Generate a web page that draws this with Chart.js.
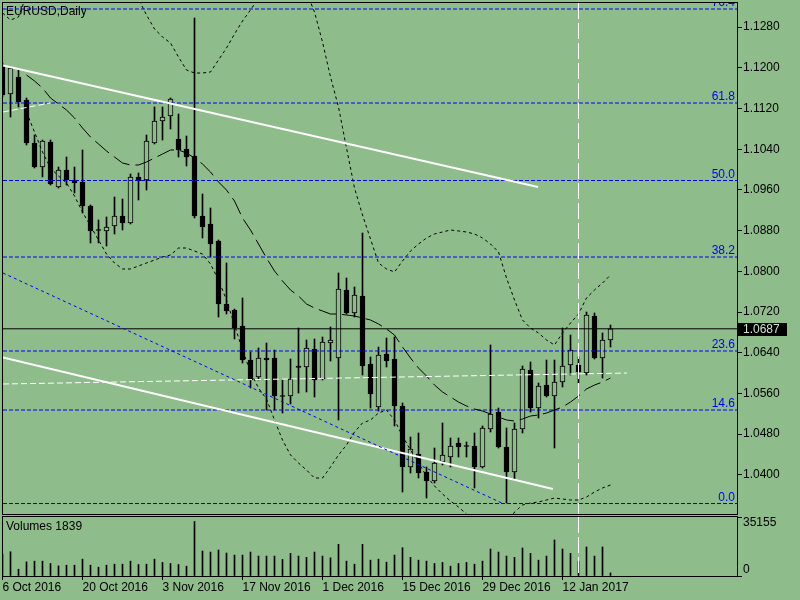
<!DOCTYPE html>
<html>
<head>
<meta charset="utf-8">
<script src="https://cdn.jsdelivr.net/npm/chart.js@4.4.0/dist/chart.umd.min.js"></script>
<style>
  html, body { margin: 0; padding: 0; background: rgb(143,188,139); }
  #wrap { position: relative; width: 800px; height: 600px; overflow: hidden; }
  canvas { position: absolute; left: 0; }
</style>
</head>
<body>
<div id="wrap">
  <canvas id="priceChart" width="800" height="515" style="top:0"></canvas>
  <canvas id="volumeChart" width="800" height="85" style="top:515px"></canvas>
</div>
<script>
// EURUSD daily bars, 6 Oct 2016 - 20 Jan 2017
const dates = [
  '6 Oct 2016','7 Oct 2016','10 Oct 2016','11 Oct 2016','12 Oct 2016','13 Oct 2016','14 Oct 2016','17 Oct 2016','18 Oct 2016','19 Oct 2016',
  '20 Oct 2016','21 Oct 2016','24 Oct 2016','25 Oct 2016','26 Oct 2016','27 Oct 2016','28 Oct 2016','31 Oct 2016','1 Nov 2016','2 Nov 2016',
  '3 Nov 2016','4 Nov 2016','7 Nov 2016','8 Nov 2016','9 Nov 2016','10 Nov 2016','11 Nov 2016','14 Nov 2016','15 Nov 2016','16 Nov 2016',
  '17 Nov 2016','18 Nov 2016','21 Nov 2016','22 Nov 2016','23 Nov 2016','24 Nov 2016','25 Nov 2016','28 Nov 2016','29 Nov 2016','30 Nov 2016',
  '1 Dec 2016','2 Dec 2016','5 Dec 2016','6 Dec 2016','7 Dec 2016','8 Dec 2016','9 Dec 2016','12 Dec 2016','13 Dec 2016','14 Dec 2016',
  '15 Dec 2016','16 Dec 2016','19 Dec 2016','20 Dec 2016','21 Dec 2016','22 Dec 2016','23 Dec 2016','26 Dec 2016','27 Dec 2016','28 Dec 2016',
  '29 Dec 2016','30 Dec 2016','2 Jan 2017','3 Jan 2017','4 Jan 2017','5 Jan 2017','6 Jan 2017','9 Jan 2017','10 Jan 2017','11 Jan 2017',
  '12 Jan 2017','13 Jan 2017','16 Jan 2017','17 Jan 2017','18 Jan 2017','19 Jan 2017','20 Jan 2017'
];

const opens = [
  1.12055,1.11485,1.11820,1.11367,1.10522,1.10050,1.10542,1.09657,1.09992,1.09795,
  1.09756,1.09284,1.08822,1.08793,1.08891,1.09087,1.08950,1.09854,1.09795,1.10522,
  1.10955,1.11053,1.10601,1.10404,1.10267,1.09087,1.08930,1.08596,1.07358,1.07240,
  1.06925,1.06257,1.05923,1.06296,1.06296,1.05559,1.05549,1.06139,1.06119,1.06473,
  1.05883,1.06591,1.06296,1.07633,1.07181,1.07515,1.06178,1.05333,1.06375,1.06277,
  1.05353,1.04154,1.04409,1.04055,1.03879,1.04252,1.04350,1.04625,1.04576,1.04566,
  1.04154,1.04901,1.05235,1.04547,1.04055,1.04901,1.06060,1.05313,1.05765,1.05549,
  1.05824,1.06159,1.06159,1.06001,1.07122,1.06296,1.06650
];
const highs = [
  1.12095,1.12016,1.11977,1.11407,1.10679,1.10581,1.10581,1.10050,1.10247,1.10050,
  1.10385,1.09304,1.09009,1.09068,1.09461,1.09421,1.09913,1.09933,1.10679,1.11230,
  1.11230,1.11407,1.11092,1.10660,1.12979,1.09520,1.09245,1.08616,1.08164,1.07259,
  1.07476,1.06414,1.06493,1.06591,1.06453,1.05864,1.06277,1.06886,1.06650,1.06670,
  1.06709,1.06906,1.07967,1.07869,1.07692,1.08753,1.06316,1.06512,1.06689,1.06709,
  1.05412,1.04743,1.04822,1.04154,1.04527,1.05019,1.04724,1.04724,1.04645,1.04822,
  1.04960,1.06552,1.05313,1.04920,1.05019,1.06139,1.06218,1.05805,1.06257,1.06257,
  1.06886,1.06748,1.06316,1.07200,1.07181,1.06788,1.06945
];
const lows = [
  1.11426,1.11033,1.11230,1.10483,1.10031,1.09854,1.09697,1.09638,1.09697,1.09539,
  1.09146,1.08557,1.08557,1.08498,1.08734,1.08812,1.08930,1.09402,1.09598,1.10503,
  1.10581,1.10797,1.10247,1.10070,1.09048,1.08655,1.08281,1.07102,1.07161,1.06670,
  1.06198,1.05707,1.05864,1.05274,1.05274,1.05215,1.05392,1.05608,1.05628,1.05530,
  1.05864,1.06237,1.05078,1.07161,1.07102,1.05962,1.05313,1.05254,1.06119,1.04960,
  1.03662,1.04036,1.03937,1.03544,1.03839,1.04193,1.04154,1.04350,1.04350,1.03741,
  1.04134,1.04842,1.04527,1.03446,1.03898,1.04822,1.05235,1.05117,1.05530,1.04527,
  1.05726,1.05962,1.05805,1.05962,1.06277,1.05903,1.06512
];
const closes = [
  1.11466,1.11996,1.11328,1.10522,1.10050,1.10562,1.09716,1.09992,1.09795,1.09736,
  1.09284,1.08793,1.08802,1.08871,1.09087,1.08950,1.09854,1.09775,1.10562,1.10955,
  1.11033,1.11387,1.10385,1.10247,1.09087,1.08871,1.08537,1.07358,1.07220,1.06886,
  1.06257,1.05864,1.06296,1.06257,1.05549,1.05539,1.05883,1.06109,1.06493,1.05864,
  1.06611,1.06650,1.07652,1.07181,1.07535,1.06139,1.05589,1.06355,1.06237,1.05353,
  1.04154,1.04507,1.04036,1.03879,1.04232,1.04390,1.04566,1.04547,1.04557,1.04154,
  1.04920,1.05195,1.04547,1.04055,1.04901,1.06080,1.05313,1.05746,1.05549,1.05824,
  1.06139,1.06453,1.06021,1.07141,1.06296,1.06650,1.06870
];
const volumes = [
  13000,14450,4030,8430,8850,8850,7460,6020,6440,6440,
  10050,6440,5240,6440,7040,7040,8850,6840,7040,10050,
  8070,7460,6840,5840,32510,14870,14270,15470,13670,12460,
  12460,14270,11860,11860,11860,9870,13480,11860,11080,14270,
  11860,10840,18900,8850,7040,18900,9450,10050,8250,12460,
  16860,11080,9450,8850,7460,8070,5840,7460,8070,7040,
  8850,16070,14270,11860,11080,16670,13480,9450,11860,21490,
  16070,13480,8850,17280,11860,17280,1839
];

// Bollinger bands as drawn (null where the line is off the window)
const bbUpper = [
  1.13078,1.12940,1.12999,1.13431,null,null,null,null,null,null,
  null,null,null,null,null,null,1.13628,1.13353,1.13038,1.12763,
  1.12606,1.12488,1.12213,1.11957,1.11898,1.11898,1.11918,1.12154,1.12390,1.12665,
  1.12920,1.13136,1.13372,1.13628,null,null,null,1.13923,1.13490,1.13097,
  1.12507,1.11820,1.11230,1.10424,1.09638,1.09107,1.08635,1.08164,1.08046,1.07987,
  1.08203,1.08399,1.08537,1.08655,1.08734,1.08773,1.08812,1.08793,1.08773,1.08734,
  1.08655,1.08537,1.08380,1.07869,1.07436,1.07043,1.06886,1.06788,1.06650,1.06552,
  1.06788,1.06984,1.07161,1.07476,1.07633,1.07770,1.07928
];
const bbMiddle = [
  null,null,null,1.11859,1.11741,1.11603,1.11407,1.11289,1.11171,1.11014,
  1.10817,1.10640,1.10503,1.10365,1.10247,1.10129,1.10090,1.10090,1.10149,1.10227,
  1.10306,1.10385,1.10385,1.10326,1.10227,1.10109,1.09952,1.09756,1.09598,1.09382,
  1.09048,1.08812,1.08537,1.08262,1.08006,1.07810,1.07633,1.07515,1.07358,1.07279,
  1.07220,1.07161,1.07161,1.07141,1.07122,1.07082,1.07043,1.06965,1.06866,1.06748,
  1.06512,1.06296,1.06100,1.05942,1.05765,1.05628,1.05530,1.05431,1.05353,1.05294,
  1.05254,1.05195,1.05136,1.05078,1.05058,1.05097,1.05156,1.05176,1.05215,1.05274,
  1.05333,1.05431,1.05549,1.05687,1.05765,1.05824,1.05903
];
const bbLower = [
  null,null,null,1.11132,1.10738,1.10345,1.10031,1.09874,1.09736,1.09480,
  1.09166,1.08891,1.08616,1.08340,1.08164,1.08046,1.08046,1.08105,1.08164,1.08222,
  1.08281,1.08321,1.08458,1.08458,1.08399,1.08340,1.08144,1.07829,1.07436,1.06945,
  1.06453,1.06021,1.05707,1.05490,1.05078,1.04684,1.04390,1.04232,1.04095,1.03937,
  1.03937,1.04154,1.04390,1.04586,1.04842,1.05019,1.05078,1.05215,1.05274,1.05078,
  1.04763,1.04488,1.04232,1.03977,1.03780,1.03623,1.03485,1.03367,1.03230,1.03073,
  1.02915,1.02817,1.02856,1.03014,1.03269,1.03407,1.03446,1.03466,1.03505,1.03544,
  1.03525,1.03505,1.03505,1.03564,1.03662,1.03741,1.03800
];

const fibLevels = ['0.0','14.6','23.6','38.2','50.0','61.8','76.4'];
const fibPrices = [1.03436,1.05274,1.06434,1.08281,1.09785,1.11308,1.13156];

// hand-drawn objects: [bar index, price]
const upperTrend = [[0.06,1.12046],[66.94,1.09657]];
const lowerTrend = [[0.06,1.06306],[68.81,1.03721]];
const channelLine = [[0.06,1.07967],[62.56,1.03436]];
const whiteDashed = [[0.06,1.05785],[78.06,1.06001]];
const whiteDashedShort = [[0.06,1.11132],[5.94,1.11308]];
const markerDate = '16 Jan 2017';

const lastPrice = 1.0687;
const volumeMax = 35155;
const xTickLabels = ['6 Oct 2016','20 Oct 2016','3 Nov 2016','17 Nov 2016','1 Dec 2016','15 Dec 2016','29 Dec 2016','12 Jan 2017'];

const bg = 'rgb(143,188,139)';
const xMin = 0.0625, xMax = 91.8125;
const FONT = '"Liberation Sans", Arial, sans-serif';

Chart.defaults.font.family = FONT;
Chart.defaults.font.size = 12;
Chart.defaults.color = '#000';

const seg = pts => pts.map(p => ({ x: p[0], y: p[1] }));
const series = arr => arr.map((v, i) => ({ x: i, y: v }));

function lineSet(data, color, dash, width, order) {
  return {
    type: 'line', data, borderColor: color, borderWidth: width || 1,
    borderDash: dash || [], pointRadius: 0, fill: false, tension: 0,
    spanGaps: false, order: order === undefined ? 1 : order
  };
}

// keep the plot area fixed: no extra room for end labels
function noPad(s) {
  s.paddingTop = 0; s.paddingBottom = 0; s.paddingLeft = 0; s.paddingRight = 0;
}

function drawMarker(chart) {
  const { ctx, chartArea: a, scales: { x } } = chart;
  const vx = Math.round(x.getPixelForValue(dates.indexOf(markerDate)) - 0.5) + 0.5;
  ctx.save();
  ctx.strokeStyle = '#fff';
  ctx.lineWidth = 1;
  ctx.setLineDash([16, 4]);
  ctx.beginPath();
  ctx.moveTo(vx, a.top);
  ctx.lineTo(vx, a.bottom);
  ctx.stroke();
  ctx.restore();
}

const priceDecor = {
  id: 'priceDecor',
  afterDatasetsDraw(chart) {
    drawMarker(chart);
  },
  afterDraw(chart) {
    const { ctx, chartArea: a, scales: { y } } = chart;
    ctx.save();
    ctx.font = '12px ' + FONT;

    // fibo level labels, clipped to the plot
    ctx.save();
    ctx.beginPath();
    ctx.rect(a.left, a.top, a.right - a.left, a.bottom - a.top);
    ctx.clip();
    ctx.fillStyle = '#0000ff';
    ctx.textAlign = 'right';
    ctx.textBaseline = 'alphabetic';
    fibLevels.forEach((lv, k) => {
      ctx.fillText(lv, a.right - 2, y.getPixelForValue(fibPrices[k]) - 3);
    });
    ctx.restore();

    ctx.fillStyle = '#000';
    ctx.textAlign = 'left';
    ctx.textBaseline = 'middle';
    ctx.fillText('EURUSD,Daily', 6, 12);

    // panel frame
    ctx.strokeStyle = '#000';
    ctx.lineWidth = 1;
    ctx.strokeRect(a.left - 0.5, a.top - 0.5, a.right - a.left + 1, a.bottom - a.top + 1);

    // bid label on the price scale
    const py = y.getPixelForValue(lastPrice);
    ctx.fillStyle = '#000';
    ctx.fillRect(a.right + 1, Math.round(py) - 6, 49, 13);
    ctx.fillStyle = '#cfe3cc';
    ctx.fillText(lastPrice.toFixed(4), a.right + 6, Math.round(py) + 0.5);
    ctx.restore();
  }
};

const volumeDecor = {
  id: 'volumeDecor',
  afterDatasetsDraw(chart) {
    drawMarker(chart);
  },
  afterDraw(chart) {
    const { ctx, chartArea: a } = chart;
    ctx.save();
    ctx.font = '12px ' + FONT;
    ctx.fillStyle = '#000';
    ctx.textAlign = 'left';
    ctx.textBaseline = 'middle';
    ctx.fillText('Volumes ' + volumes[volumes.length - 1], 6, a.top + 10);
    ctx.fillText(String(volumeMax), a.right + 6, a.top + 6);
    ctx.fillText('0', a.right + 6, a.bottom - 6);
    ctx.strokeStyle = '#000';
    ctx.lineWidth = 1;
    ctx.strokeRect(a.left - 0.5, a.top - 0.5, a.right - a.left + 1, a.bottom - a.top + 1);
    ctx.restore();
  }
};

const xRange = [{ x: xMin }, { x: xMax }];
const flat = p => xRange.map(pt => ({ x: pt.x, y: p }));

const priceDatasets = [
  {
    type: 'bar',
    data: dates.map((d, i) => ({ x: i, y: [lows[i], highs[i]] })),
    backgroundColor: '#000', barThickness: 1, grouped: false, order: 3
  },
  {
    type: 'bar',
    data: dates.map((d, i) => ({ x: i, y: [opens[i], closes[i]] })),
    backgroundColor: dates.map((d, i) => closes[i] >= opens[i] ? bg : '#000'),
    borderColor: '#000', borderWidth: 1, borderSkipped: false,
    barThickness: 5, minBarLength: 1, grouped: false, order: 2
  },
  lineSet(series(bbUpper), '#000', [3, 3]),
  lineSet(series(bbLower), '#000', [3, 3]),
  lineSet(series(bbMiddle), '#000', [18, 6]),
  ...fibPrices.map(p => lineSet(flat(p), '#0000ff', [4, 2])),
  lineSet(flat(lastPrice), '#000', []),
  lineSet(seg(channelLine), '#0000ff', [3, 3], 1, 0),
  lineSet(seg(whiteDashed), '#fff', [6, 3], 1, 0),
  lineSet(seg(whiteDashedShort), '#fff', [6, 3], 1, 0),
  lineSet(seg(upperTrend), '#fff', [], 2, 0),
  lineSet(seg(lowerTrend), '#fff', [], 2, 0)
];

new Chart(document.getElementById('priceChart'), {
  type: 'bar',
  data: { datasets: priceDatasets },
  options: {
    responsive: false,
    animation: false,
    devicePixelRatio: 1,
    events: [],
    layout: { padding: { left: 3, top: 3, right: 0, bottom: 1 } },
    plugins: { legend: { display: false }, tooltip: { enabled: false } },
    scales: {
      x: {
        type: 'linear', min: xMin, max: xMax, offset: false,
        display: false, grid: { offset: false }
      },
      y: {
        type: 'linear', position: 'right', min: 1.0323, max: 1.13274,
        ticks: {
          stepSize: 0.008, includeBounds: false, padding: 1,
          callback: v => v.toFixed(4)
        },
        grid: { drawOnChartArea: false, tickLength: 5, color: '#000' },
        border: { color: '#000' },
        afterFit: s => { s.width = 63; noPad(s); }
      }
    }
  },
  plugins: [priceDecor]
});

new Chart(document.getElementById('volumeChart'), {
  type: 'bar',
  data: {
    datasets: [{
      data: volumes.map((v, i) => ({ x: i, y: v })),
      backgroundColor: '#000', barThickness: 1, grouped: false
    }]
  },
  options: {
    responsive: false,
    animation: false,
    devicePixelRatio: 1,
    events: [],
    layout: { padding: { left: 3, top: 2, right: 0, bottom: 0 } },
    plugins: { legend: { display: false }, tooltip: { enabled: false } },
    scales: {
      x: {
        type: 'linear', min: xMin, max: xMax, offset: false,
        grid: { drawOnChartArea: false, offset: false, tickLength: 4, color: '#000' },
        border: { color: '#000' },
        ticks: {
          align: 'start', padding: 0, autoSkip: false, maxRotation: 0,
          callback: v => dates[v] || ''
        },
        afterBuildTicks: s => { s.ticks = xTickLabels.map(l => ({ value: dates.indexOf(l) })); },
        afterFit: s => { s.height = 24; noPad(s); }
      },
      y: {
        type: 'linear', position: 'right', min: 0, max: volumeMax,
        ticks: { display: false },
        grid: { drawOnChartArea: false, tickLength: 5, color: '#000' },
        border: { color: '#000' },
        afterBuildTicks: s => { s.ticks = [{ value: 0 }, { value: volumeMax }]; },
        afterFit: s => { s.width = 63; noPad(s); }
      }
    }
  },
  plugins: [volumeDecor]
});
</script>
</body>
</html>
